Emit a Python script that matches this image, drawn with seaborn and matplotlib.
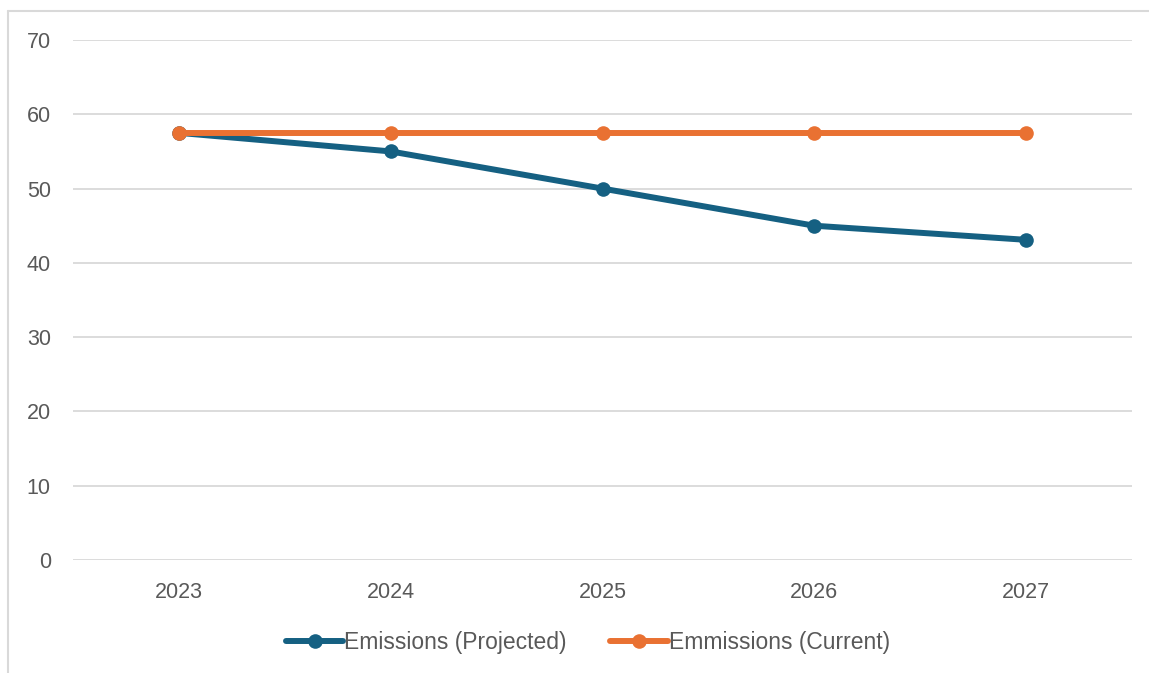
import pandas as pd
import matplotlib.pyplot as plt
import seaborn as sns
from matplotlib.lines import Line2D

# Данные
years = ["2023", "2024", "2025", "2026", "2027"]
projected = [57.5, 55, 50, 45, 43.1]
current = [57.5, 57.5, 57.5, 57.5, 57.5]
series_names = ["Emissions (Projected)", "Emmissions (Current)"]
colors = ["#156082", "#E97132"]

df = pd.concat([
    pd.DataFrame({"year": years, "value": projected, "series": series_names[0]}),
    pd.DataFrame({"year": years, "value": current, "series": series_names[1]}),
])

sns.set_theme(style="white")
plt.rcParams["font.family"] = ["Liberation Sans", "DejaVu Sans"]

fig = plt.figure(figsize=(11.49, 6.73), dpi=100)
ax = fig.add_axes([73 / 1149, 1 - 560 / 673, (1132 - 73) / 1149, 520 / 673])

sns.lineplot(data=df, x="year", y="value", hue="series", palette=colors,
             marker="o", markersize=10.5, markeredgewidth=0, linewidth=4.3,
             ax=ax, legend=False, sort=False)

ax.set_xlim(-0.5, 4.5)
ax.set_ylim(0, 70)
ax.set_yticks(range(0, 71, 10))
ax.yaxis.grid(True, color="#D9D9D9", linewidth=1.3)
ax.set_axisbelow(True)
for s in ax.spines.values():
    s.set_visible(False)
ax.tick_params(axis="both", length=0, labelsize=15.5, labelcolor="#595959")
ax.tick_params(axis="y", pad=16)
ax.tick_params(axis="x", pad=15.5)
ax.set_xlabel("")
ax.set_ylabel("")

handles = [Line2D([], [], color=c, linewidth=4.3, marker="o", markersize=10.5,
                  markeredgewidth=0) for c in colors]
fig.legend(handles, series_names, loc="center", bbox_to_anchor=(588 / 1149, 1 - 643 / 673),
           ncol=2, frameon=False, fontsize=16.5, labelcolor="#595959",
           handlelength=2.5, handletextpad=0.05, columnspacing=1.9)

# рамка диаграммы (верх и слева)
fig.add_artist(Line2D([8 / 1149, 1], [1 - 11 / 673, 1 - 11 / 673], color="#D9D9D9", linewidth=1.5))
fig.add_artist(Line2D([8 / 1149, 8 / 1149], [0, 1 - 11 / 673], color="#D9D9D9", linewidth=1.5))

fig.savefig("out.png", dpi=100)
